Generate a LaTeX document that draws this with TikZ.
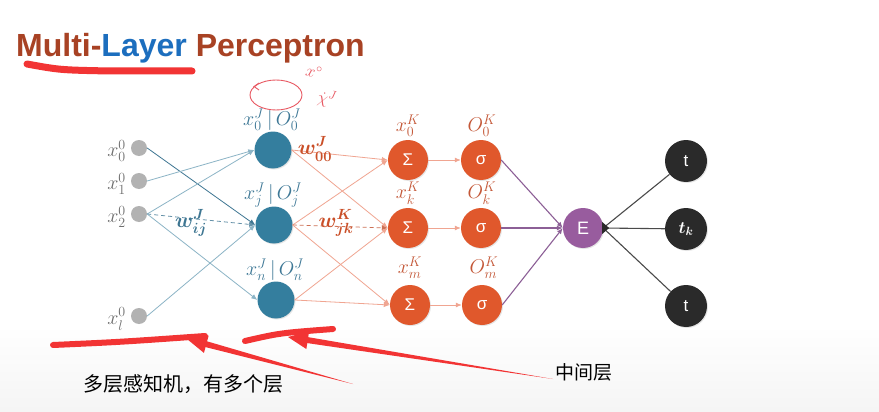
\RequirePackage{fix-cm}
\documentclass[tikz,border=0pt]{standalone}
\usepackage{amsmath}
\usepackage{fontspec}
\newfontfamily\titlefont{Liberation Sans}
\newfontfamily\cjk{Noto Sans CJK SC}
\usetikzlibrary{arrows.meta,calc,shadows}
\definecolor{titlebrown}{RGB}{168,66,36}
\definecolor{titleblue}{RGB}{28,110,190}
\definecolor{tealnode}{RGB}{52,126,158}
\definecolor{teallab}{RGB}{62,120,150}
\definecolor{tealedge}{RGB}{140,180,198}
\definecolor{tealdark}{RGB}{62,118,146}
\definecolor{orangenode}{RGB}{224,88,44}
\definecolor{orangelab}{RGB}{196,88,56}
\definecolor{salmon}{RGB}{240,165,145}
\definecolor{purplenode}{RGB}{152,92,158}
\definecolor{purpleedge}{RGB}{140,95,150}
\definecolor{darknode}{RGB}{42,42,42}
\definecolor{inputgray}{RGB}{178,178,178}
\definecolor{labgray}{RGB}{110,110,110}
\definecolor{annred}{RGB}{242,52,52}
\definecolor{pinkc}{RGB}{232,88,98}
\tikzset{
  inp/.style={circle,fill=inputgray,minimum size=16pt,inner sep=0pt},
  hid/.style={circle,fill=tealnode,minimum size=37pt,inner sep=0pt,drop shadow={opacity=0.2,shadow xshift=1pt,shadow yshift=-1pt}},
  sumn/.style={circle,fill=orangenode,minimum size=40pt,inner sep=0pt,text=white,font=\titlefont\fontsize{17}{20}\selectfont,drop shadow={opacity=0.2,shadow xshift=1pt,shadow yshift=-1pt}},
  enode/.style={circle,fill=purplenode,minimum size=40pt,inner sep=0pt,text=white,font=\titlefont\fontsize{18}{20}\selectfont,drop shadow={opacity=0.2,shadow xshift=1pt,shadow yshift=-1pt}},
  tnode/.style={circle,fill=darknode,minimum size=42pt,inner sep=0pt,text=white,font=\titlefont\fontsize{17}{20}\selectfont,drop shadow={opacity=0.2,shadow xshift=1pt,shadow yshift=-1pt}},
  glab/.style={inner sep=0pt,text=labgray,font=\fontsize{20}{24}\selectfont},
  jlab/.style={inner sep=0pt,text=teallab,font=\fontsize{20}{24}\selectfont},
  klab/.style={inner sep=0pt,text=orangelab,font=\fontsize{20}{24}\selectfont},
  tip/.style={-{Latex[length=6pt,width=5pt]}},
  tedge/.style={tip,draw=tealedge,line width=0.8pt},
  oedge/.style={tip,draw=salmon,line width=0.8pt},
  pedge/.style={tip,draw=purpleedge,line width=1.1pt},
  dedge/.style={draw=darknode!85,line width=1.1pt},
  dsh/.style={dash pattern=on 4pt off 3pt},
  redstroke/.style={draw=annred,line width=6pt,line cap=round},
}
\begin{document}
\begin{tikzpicture}[x=1pt,y=-1pt]
\useasboundingbox (0,0) rectangle (879,412);
\fill[white] (0,0) rectangle (879,412);
\shade[top color=white,bottom color=black!4] (0,325) rectangle (879,412);

% title
\node[anchor=base west,inner sep=0pt,font=\titlefont\bfseries\fontsize{32}{36}\selectfont] (title) at (16,57)
  {\textcolor{titlebrown}{Multi-}\textcolor{titleblue}{Layer} \textcolor{titlebrown}{Perceptron}};

% input nodes
\node[inp] (i0) at (139,148) {};
\node[inp] (i1) at (139,181) {};
\node[inp] (i2) at (139,214) {};
\node[inp] (il) at (139,316) {};
\node[glab,anchor=east] (li0) at (126,151) {$x_0^0$};
\node[glab,anchor=east] (li1) at (126,184) {$x_1^0$};
\node[glab,anchor=east] (li2) at (126,217) {$x_2^0$};
\node[glab,anchor=east] (lil) at (126,319) {$x_l^0$};

% hidden nodes
\node[hid] (h0) at (273,150) {};
\node[hid] (hj) at (274,225) {};
\node[hid] (hn) at (276,300) {};
\node[jlab] (lh0) at (272,120) {$x_0^J\,|\,O_0^J$};
\node[jlab] (lhj) at (273,195) {$x_j^J\,|\,O_j^J$};
\node[jlab] (lhn) at (275,270) {$x_n^J\,|\,O_n^J$};

% sum nodes
\node[sumn] (k0) at (408,160) {Σ};
\node[sumn] (k1) at (408,228) {Σ};
\node[sumn] (k2) at (410,305) {Σ};
\node[klab] (lk0) at (408,126) {$x_0^K$};
\node[klab] (lk1) at (408,193) {$x_k^K$};
\node[klab] (lk2) at (410,268) {$x_m^K$};

% sigma nodes
\node[sumn] (s0) at (481,160) {σ};
\node[sumn] (s1) at (481,228) {σ};
\node[sumn] (s2) at (482,305) {σ};
\node[klab] (ls0) at (482,126) {$O_0^K$};
\node[klab] (ls1) at (482,193) {$O_k^K$};
\node[klab] (ls2) at (484,268) {$O_m^K$};

% error and targets
\node[enode] (E) at (583,228) {E};
\node[tnode] (t0) at (686,161) {t};
\node[tnode] (t1) at (686,229) {$\boldsymbol{t_k}$};
\node[tnode] (t2) at (686,306) {t};

% input -> hidden
\draw[tedge,draw=tealdark] (i0.east) -- (hj.west);
\draw[tedge] (i1.east) -- (h0.west);
\draw[tedge] (i2.east) -- (h0.west);
\draw[tedge,draw=tealdark!80,dsh] (i2.east) -- (hj.west);
\draw[tedge] (i2.east) -- (hn.west);
\draw[tedge] (il.east) -- (hj.west);

% hidden -> sum
\draw[oedge] (h0.east) -- (k0.west);
\draw[oedge] (h0.east) -- (k1.west);
\draw[oedge] (hj.east) -- (k0.west);
\draw[oedge,draw=orangelab!85,dsh] (hj.east) -- (k1.west);
\draw[oedge] (hj.east) -- (k2.west);
\draw[oedge] (hn.east) -- (k1.west);
\draw[oedge] (hn.east) -- (k2.west);

% sum -> sigma
\draw[oedge] (k0) -- (s0);
\draw[oedge] (k1) -- (s1);
\draw[oedge] (k2) -- (s2);

% sigma -> E
\draw[pedge] (s0.east) -- (E.west);
\draw[pedge] (s1.east) -- (E.west);
\draw[pedge] (s2.east) -- (E.west);

% E -- t
\draw[dedge] (E.east) -- (t0);
\draw[dedge] (E.east) -- (t1);
\draw[dedge] (E.east) -- (t2);
\fill[darknode] ($(E.east)+(-1,-6)$) -- ($(E.east)+(6,0)$) -- ($(E.east)+(-1,6)$) -- cycle;

% weight labels
\node[inner sep=0pt,text=tealdark,font=\fontsize{21}{24}\selectfont] (wij) at (191,223) {$\boldsymbol{w_{ij}^{J}}$};
\node[inner sep=0pt,text=orangenode!90!black,font=\fontsize{21}{24}\selectfont] (w00) at (315,149) {$\boldsymbol{w_{00}^{J}}$};
\node[inner sep=0pt,text=orangenode!90!black,font=\fontsize{21}{24}\selectfont] (wjk) at (336,223) {$\boldsymbol{w_{jk}^{K}}$};

% pink handwriting
\draw[pinkc,line width=0.9pt] (276,95) ellipse [x radius=26, y radius=15];
\draw[pinkc,line width=0.9pt] (259,83) -- (254,86.5) -- (259,90);
\node[inner sep=0pt,text=pinkc,rotate=-15,font=\fontsize{17}{18}\selectfont] (hw1) at (314,72) {$x^{\circ}$};
\node[inner sep=0pt,text=pinkc,rotate=-10,font=\fontsize{17}{18}\selectfont] (hw2) at (327,99) {$\dot{\chi}^{J}$};

% red annotations
\draw[redstroke,line width=7pt] (27,64) .. controls (60,70) .. (110,71) -- (192,71);
\draw[redstroke] (53,345) .. controls (120,342) .. (205,336);
\draw[redstroke] (245,341) .. controls (280,333) .. (333,329);
\coordinate (T1) at (353,384);
\coordinate (H1) at (187,339);
\coordinate (B1) at ($(H1)!20pt!(T1)$);
\fill[annred] (T1) -- ($(B1)!3pt!90:(H1)$) -- ($(B1)!9pt!90:(H1)$) -- (H1) -- ($(B1)!9pt!-90:(H1)$) -- ($(B1)!3pt!-90:(H1)$) -- cycle;
\coordinate (T2) at (553,379);
\coordinate (H2) at (288,337);
\coordinate (B2) at ($(H2)!20pt!(T2)$);
\fill[annred] (T2) -- ($(B2)!3pt!90:(H2)$) -- ($(B2)!9pt!90:(H2)$) -- (H2) -- ($(B2)!9pt!-90:(H2)$) -- ($(B2)!3pt!-90:(H2)$) -- cycle;

% chinese texts
\node[anchor=west,inner sep=0pt,font=\cjk\fontsize{20}{24}\selectfont] (cn1) at (83,384) {多层感知机，有多个层};
\node[anchor=west,inner sep=0pt,font=\cjk\fontsize{19}{22}\selectfont] (cn2) at (555,372) {中间层};
\end{tikzpicture}
\end{document}
